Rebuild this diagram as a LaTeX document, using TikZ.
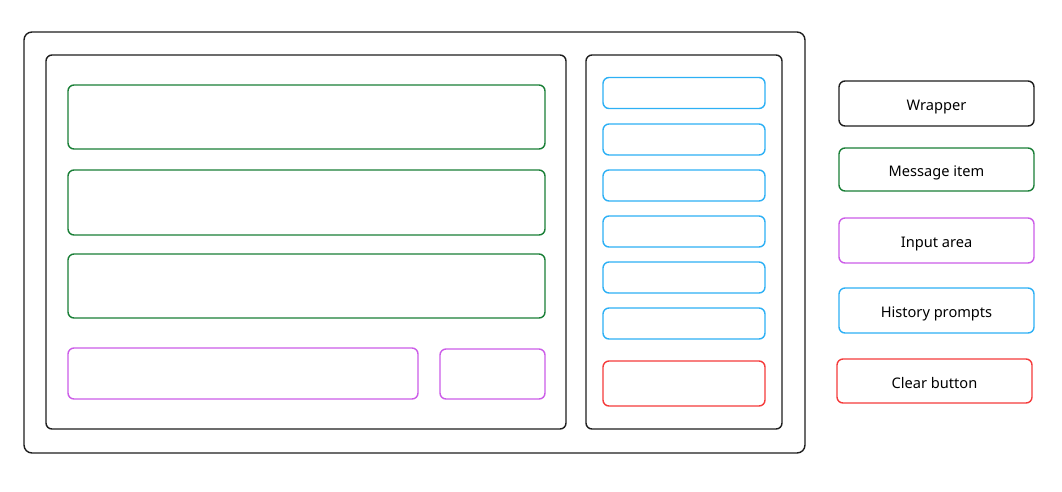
\documentclass[tikz,border=0pt]{standalone}
\usepackage{fontspec}
\setmainfont{Noto Sans}
\definecolor{cblack}{HTML}{1E1E1E}
\definecolor{cgreen}{HTML}{1A7F37}
\definecolor{cpurple}{HTML}{CC5DE8}
\definecolor{cblue}{HTML}{2DB0F5}
\definecolor{cred}{HTML}{F53B3B}
\begin{document}
\begin{tikzpicture}[x=1pt,y=-1pt,
  box/.style={draw, rectangle, rounded corners=6pt, line width=1.4pt, inner sep=0pt, fill=white},
  bigbox/.style={box, draw=cblack, rounded corners=8pt},
  wbox/.style={box, draw=cblack},
  gbox/.style={box, draw=cgreen},
  pbox/.style={box, draw=cpurple},
  bbox/.style={box, draw=cblue},
  rbox/.style={box, draw=cred},
  lbl/.style={font=\fontsize{14.6}{16}\selectfont, text=black, text height=14.2pt, text depth=0pt}]
\useasboundingbox[fill=white] (0,0) rectangle (1062,491);
% main wrapper
\node[bigbox, minimum width=781pt, minimum height=421pt] (wrapper) at (414.5,242.5) {};
\node[bigbox, rounded corners=6pt, minimum width=520pt, minimum height=374pt] (left) at (306,242) {};
\node[bigbox, rounded corners=6pt, minimum width=196pt, minimum height=374pt] (right) at (684,242) {};
% messages
\node[gbox, minimum width=477pt, minimum height=64pt] (msg1) at (306.5,117) {};
\node[gbox, minimum width=477pt, minimum height=65pt] (msg2) at (306.5,202.5) {};
\node[gbox, minimum width=477pt, minimum height=64pt] (msg3) at (306.5,286) {};
% input
\node[pbox, minimum width=350pt, minimum height=51pt] (in1) at (243,373.5) {};
\node[pbox, minimum width=105pt, minimum height=50pt] (in2) at (492.5,374) {};
% history
\node[bbox, minimum width=162pt, minimum height=31pt] (h1) at (684,93) {};
\node[bbox, minimum width=162pt, minimum height=31pt] (h2) at (684,139.5) {};
\node[bbox, minimum width=162pt, minimum height=31pt] (h3) at (684,185.5) {};
\node[bbox, minimum width=162pt, minimum height=31pt] (h4) at (684,231.5) {};
\node[bbox, minimum width=162pt, minimum height=31pt] (h5) at (684,277.5) {};
\node[bbox, minimum width=162pt, minimum height=31pt] (h6) at (684,323.5) {};
\node[rbox, minimum width=162pt, minimum height=45pt] (clear) at (684,383.5) {};
% legend
\node[wbox, lbl, minimum width=195pt, minimum height=45pt] (lw) at (936.5,103.5) {Wrapper};
\node[gbox, lbl, minimum width=195pt, minimum height=43pt] (lm) at (936.5,169.5) {Message item};
\node[pbox, lbl, minimum width=195pt, minimum height=45pt] (li) at (936.5,240.5) {Input area};
\node[bbox, lbl, minimum width=195pt, minimum height=45pt] (lh) at (936.5,310.5) {History prompts};
\node[rbox, lbl, minimum width=195pt, minimum height=44pt] (lc) at (934.5,381) {Clear button};
\end{tikzpicture}
\end{document}
